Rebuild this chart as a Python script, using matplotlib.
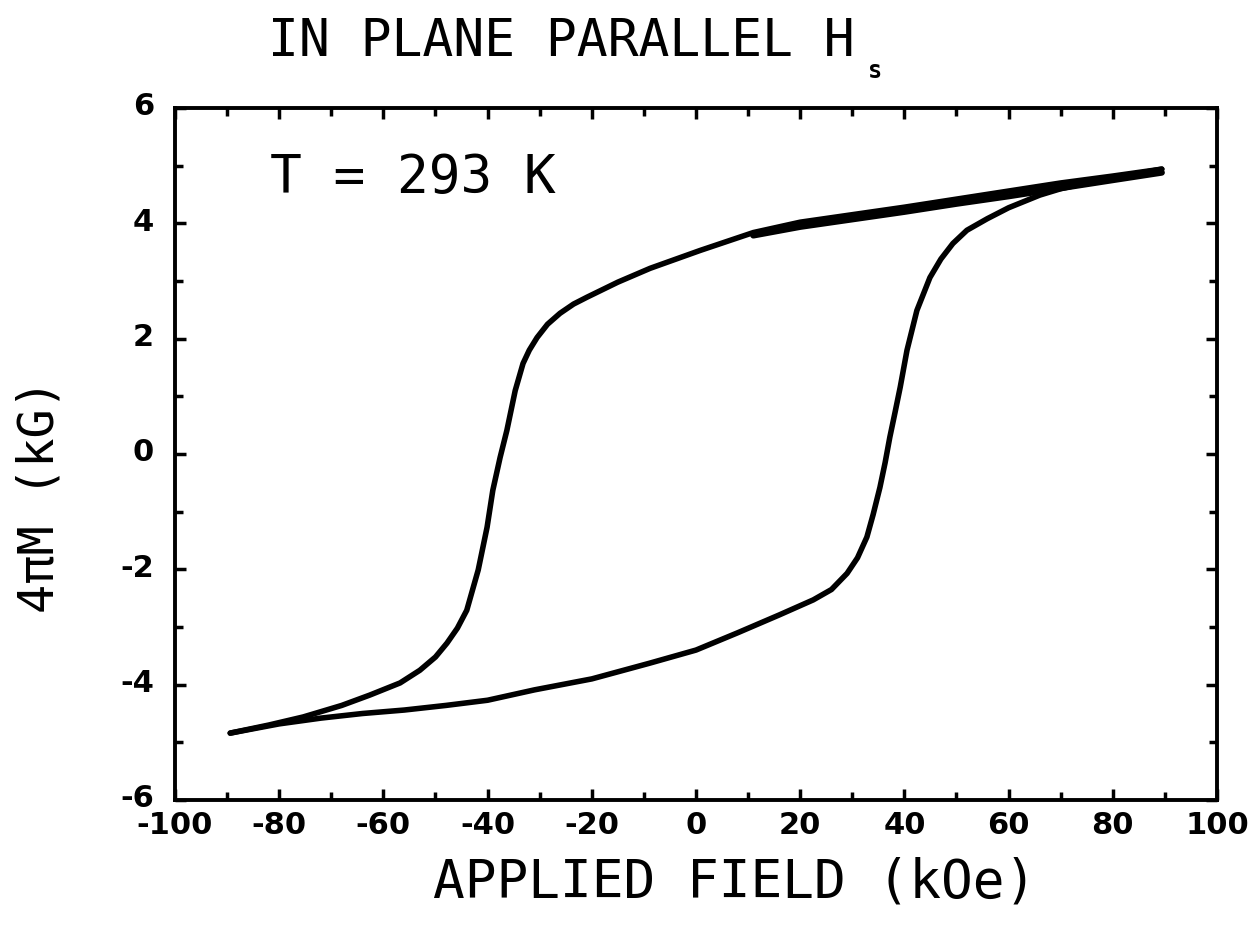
import matplotlib
matplotlib.use("Agg")
import matplotlib.pyplot as plt
import matplotlib.transforms as mtransforms
from matplotlib.ticker import MultipleLocator

plt.rcParams['axes.unicode_minus'] = False

# descending branch (from +H to -H)
h_down = [89.4, 80, 70, 60, 50, 40, 30, 20, 11, 0.8, -8.8, -15, -20.9, -23.5,
          -26.1, -28.5, -30.5, -32.0, -33.2, -34.7, -36.3, -37.6, -39.0, -40.1,
          -41.8, -44.0, -45.8, -47.8, -50.0, -53, -56.8, -62.6, -68, -75.4, -82, -89.4]
m_down = [4.94, 4.82, 4.70, 4.56, 4.42, 4.28, 4.15, 4.02, 3.84, 3.53, 3.22, 2.98,
          2.72, 2.60, 2.44, 2.25, 2.02, 1.80, 1.57, 1.10, 0.41, -0.06, -0.63, -1.27,
          -2.01, -2.71, -3.02, -3.28, -3.52, -3.75, -3.97, -4.18, -4.36, -4.56,
          -4.70, -4.84]

# ascending branch (from -H to +H)
h_up = [-89.4, -80, -72, -64, -56, -48, -40, -31, -20, -9, 0, 8, 16, 22.5, 26,
        29, 31, 32.8, 34, 35.3, 36.3, 37.2, 38.2, 39.2, 40.5, 42.4, 44.9, 47,
        49.3, 52, 55.9, 60, 66, 70, 76, 82, 89.4]
m_up = [-4.84, -4.68, -4.58, -4.50, -4.44, -4.36, -4.27, -4.09, -3.90, -3.63,
        -3.40, -3.10, -2.79, -2.53, -2.35, -2.07, -1.80, -1.44, -1.05, -0.58,
        -0.15, 0.29, 0.72, 1.16, 1.80, 2.49, 3.06, 3.38, 3.65, 3.88, 4.08, 4.27,
        4.49, 4.60, 4.72, 4.82, 4.94]

# first sweep, overlapping the top of the loop
h_init = [11, 20, 30, 40, 50, 60, 70, 80, 89.4]
m_init = [3.79, 3.94, 4.07, 4.20, 4.34, 4.47, 4.61, 4.75, 4.88]

x_ticks = [-100, -80, -60, -40, -20, 0, 20, 40, 60, 80, 100]
y_ticks = [-6, -4, -2, 0, 2, 4, 6]

mono = 'DejaVu Sans Mono'

fig = plt.figure(figsize=(12.6, 9.31), dpi=100)
ax = fig.add_axes([175/1260, 1-800/931, 1042/1260, 692/931])

style = dict(color='black', solid_capstyle='round', solid_joinstyle='round')
ax.plot(h_down, m_down, lw=4, **style)
ax.plot(h_up, m_up, lw=4, **style)
ax.plot(h_init, m_init, lw=4.5, **style)

ax.set_xlim(-100, 100)
ax.set_ylim(-6, 6)
ax.set_xticks(x_ticks)
ax.set_yticks(y_ticks)
ax.set_xticklabels([str(v) for v in x_ticks])
ax.set_yticklabels([str(v) for v in y_ticks])
ax.xaxis.set_minor_locator(MultipleLocator(10))
ax.yaxis.set_minor_locator(MultipleLocator(1))
ax.tick_params(which='both', direction='in', top=True, right=True, width=2.5, colors='black')
ax.tick_params(which='major', length=8)
ax.tick_params(which='minor', length=5.5)
ax.tick_params(axis='x', pad=8)
ax.tick_params(axis='y', pad=15)
for lab in ax.get_xticklabels() + ax.get_yticklabels():
    lab.set_fontweight('bold')
    lab.set_fontsize(22)
# y labels sit a little above their ticks
lift = mtransforms.ScaledTranslation(0, 3/72, fig.dpi_scale_trans)
for lab in ax.get_yticklabels():
    lab.set_transform(lab.get_transform() + lift)
for sp in ax.spines.values():
    sp.set_linewidth(2.8)

ax.text(0.091, 0.899, 'T = 293 K', transform=ax.transAxes, family=mono,
        fontsize=38, ha='left', va='center')

fig.text(268/1260, 1-56/931, 'IN PLANE PARALLEL H', family=mono, fontsize=37,
         ha='left', va='baseline')
fig.text(868/1260, 1-78/931, 's', family=mono, fontsize=17, fontweight='bold',
         ha='left', va='baseline')
fig.text(735/1260, 1-883/931, 'APPLIED FIELD (kOe)', family=mono, fontsize=38,
         ha='center', va='center')
fig.text(40/1260, 1-496/931, '4\u03c0M (kG)', family=mono, fontsize=35,
         rotation=90, ha='center', va='center')

fig.savefig('out.png', dpi=100)
